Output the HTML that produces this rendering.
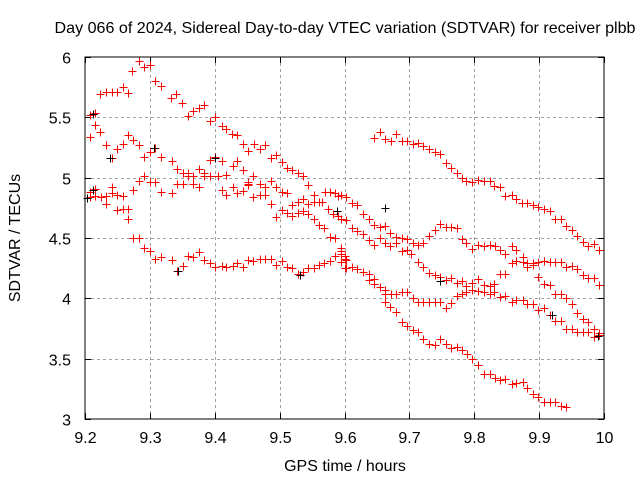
<!DOCTYPE html>
<html><head><meta charset="utf-8"><style>
body{margin:0;background:#fff}
svg{display:block;font-family:"Liberation Sans",sans-serif}
</style></head><body>
<svg id="chart" width="640" height="480">
<text x="345" y="33" font-size="16" text-anchor="middle" textLength="581" lengthAdjust="spacingAndGlyphs">Day 066 of 2024, Sidereal Day-to-day VTEC variation (SDTVAR) for receiver plbb</text>
<text x="345" y="471" font-size="16" text-anchor="middle">GPS time / hours</text>
<text transform="translate(20,238) rotate(-90)" font-size="16" text-anchor="middle">SDTVAR / TECUs</text>
<g id="grid"></g>
<g id="ticks"></g>
<g id="marks"></g>
<rect x="85" y="57" width="519" height="362" fill="none" stroke="#000" stroke-width="1"/>
</svg>
<script>
const xTicks=[9.2,9.3,9.4,9.5,9.6,9.7,9.8,9.9,10];
const xTickLabels=["9.2","9.3","9.4","9.5","9.6","9.7","9.8","9.9","10"];
const yTicks=[3,3.5,4,4.5,5,5.5,6];
const yTickLabels=["3","3.5","4","4.5","5","5.5","6"];
const trackTop=[[9.207,5.52],[9.216,5.54],[9.223,5.69],[9.232,5.71],[9.241,5.71],[9.25,5.71],[9.258,5.75],[9.267,5.70],[9.273,5.88],[9.284,5.97],[9.291,5.92],[9.30,5.93],[9.308,5.80],[9.317,5.76],[9.332,5.66],[9.341,5.69],[9.35,5.62],[9.359,5.51],[9.367,5.55],[9.375,5.58],[9.383,5.60],[9.393,5.47],[9.40,5.50],[9.411,5.43],[9.418,5.40],[9.426,5.36],[9.434,5.35],[9.444,5.28],[9.452,5.22],[9.46,5.28],[9.469,5.24],[9.477,5.27],[9.486,5.16],[9.494,5.19],[9.503,5.13],[9.511,5.08],[9.519,5.06],[9.529,5.04],[9.536,5.01],[9.544,4.94],[9.553,4.86],[9.561,4.80],[9.57,4.88],[9.578,4.88],[9.585,4.87],[9.59,4.85]];
const trackMid=[[9.207,5.34],[9.216,5.44],[9.223,5.38],[9.232,5.27],[9.241,5.16],[9.25,5.24],[9.258,5.28],[9.267,5.35],[9.274,5.31],[9.284,5.27],[9.291,5.17],[9.30,5.21],[9.308,5.25],[9.317,5.17],[9.334,5.14],[9.342,5.07],[9.351,5.04],[9.359,5.04],[9.359,5.01],[9.367,5.01],[9.376,5.07],[9.383,5.04],[9.383,5.01],[9.393,5.15],[9.393,5.01],[9.40,5.17],[9.405,5.01],[9.411,5.14],[9.418,5.02],[9.428,5.10],[9.435,5.14],[9.444,5.06],[9.452,4.96],[9.459,5.01],[9.452,4.94],[9.469,4.95],[9.477,4.92],[9.486,4.97],[9.494,4.92],[9.503,4.88],[9.511,4.87],[9.529,4.71],[9.536,4.72],[9.544,4.70],[9.553,4.66],[9.561,4.61],[9.569,4.58],[9.578,4.51],[9.586,4.50],[9.594,4.42],[9.600,4.35],[9.565,4.80],[9.575,4.74],[9.583,4.70],[9.59,4.68]];
const trackLow=[[9.207,4.88],[9.207,4.84],[9.216,4.91],[9.216,4.85],[9.224,4.84],[9.232,4.85],[9.232,4.78],[9.241,4.92],[9.241,4.87],[9.25,4.86],[9.25,4.73],[9.258,4.85],[9.258,4.74],[9.267,4.74],[9.267,4.66],[9.274,4.90],[9.284,4.97],[9.291,5.01],[9.30,4.96],[9.308,4.96],[9.317,4.88],[9.334,4.87],[9.342,4.95],[9.351,4.95],[9.367,4.95],[9.376,4.92],[9.411,4.90],[9.418,4.86],[9.428,4.92],[9.435,4.87],[9.444,4.89],[9.452,4.95],[9.459,4.84],[9.469,4.86],[9.477,4.86],[9.486,4.78],[9.494,4.67],[9.503,4.73],[9.511,4.71],[9.519,4.68],[9.519,4.77],[9.529,4.80],[9.536,4.82],[9.544,4.78],[9.553,4.80]];
const trackBottom=[[9.274,4.50],[9.284,4.50],[9.291,4.42],[9.30,4.39],[9.308,4.33],[9.317,4.34],[9.334,4.32],[9.342,4.23],[9.351,4.27],[9.359,4.35],[9.367,4.34],[9.376,4.38],[9.383,4.32],[9.393,4.29],[9.40,4.26],[9.411,4.27],[9.418,4.26],[9.428,4.27],[9.435,4.29],[9.444,4.26],[9.452,4.32],[9.459,4.31],[9.469,4.33],[9.477,4.33],[9.486,4.33],[9.494,4.28],[9.503,4.31],[9.511,4.26],[9.519,4.25],[9.529,4.20],[9.536,4.22],[9.544,4.25],[9.553,4.25],[9.561,4.28],[9.569,4.29],[9.578,4.31],[9.586,4.35],[9.594,4.39],[9.600,4.33],[9.600,4.25]];
const trackE1=[[9.646,5.33],[9.654,5.38],[9.662,5.32],[9.671,5.30],[9.680,5.36],[9.688,5.30],[9.696,5.30],[9.705,5.28],[9.714,5.29],[9.721,5.26],[9.731,5.24],[9.739,5.21],[9.747,5.20],[9.756,5.12],[9.764,5.08],[9.773,5.04],[9.781,5.00],[9.788,4.97],[9.797,4.96],[9.806,4.98],[9.815,4.97],[9.824,4.97],[9.830,4.93],[9.840,4.92],[9.847,4.85],[9.858,4.86],[9.865,4.82],[9.873,4.79],[9.882,4.79],[9.890,4.77],[9.899,4.76],[9.907,4.74],[9.916,4.72],[9.924,4.66],[9.933,4.66],[9.941,4.60],[9.950,4.57],[9.958,4.52],[9.967,4.47],[9.976,4.43],[9.985,4.45],[9.993,4.40]];
const trackE2=[[9.595,4.86],[9.603,4.84],[9.612,4.79],[9.620,4.77],[9.629,4.70],[9.637,4.66],[9.646,4.61],[9.654,4.59],[9.662,4.60],[9.670,4.54],[9.679,4.51],[9.688,4.50],[9.696,4.49],[9.705,4.46],[9.714,4.44],[9.721,4.46],[9.731,4.52],[9.739,4.57],[9.747,4.62],[9.756,4.59],[9.764,4.59],[9.773,4.58],[9.781,4.49],[9.788,4.46],[9.797,4.41],[9.806,4.44],[9.815,4.43],[9.824,4.44],[9.832,4.43],[9.840,4.40],[9.848,4.37],[9.858,4.43],[9.865,4.40],[9.875,4.34],[9.882,4.26],[9.890,4.29],[9.899,4.30],[9.907,4.31],[9.916,4.30],[9.924,4.30],[9.933,4.30],[9.941,4.26],[9.950,4.27],[9.958,4.24],[9.967,4.19],[9.976,4.17],[9.985,4.17],[9.993,4.11]];
const trackE3=[[9.595,4.66],[9.603,4.65],[9.612,4.58],[9.620,4.56],[9.629,4.53],[9.637,4.48],[9.646,4.44],[9.654,4.50],[9.662,4.46],[9.670,4.43],[9.680,4.46],[9.688,4.39],[9.696,4.40],[9.703,4.37],[9.714,4.30],[9.721,4.26],[9.731,4.21],[9.739,4.19],[9.747,4.18],[9.756,4.15],[9.764,4.17],[9.773,4.13],[9.781,4.14],[9.788,4.10],[9.797,4.13],[9.806,4.16],[9.815,4.11],[9.824,4.10],[9.830,4.12],[9.840,4.20],[9.848,4.20],[9.858,4.29],[9.865,4.31],[9.875,4.30],[9.882,4.29],[9.890,4.28],[9.899,4.18],[9.907,4.12],[9.916,4.11],[9.924,4.04],[9.933,4.04],[9.941,4.00],[9.950,3.95],[9.958,3.88],[9.967,3.83],[9.976,3.80],[9.985,3.75],[9.993,3.71]];
const trackE4=[[9.595,4.37],[9.603,4.32],[9.595,4.30],[9.603,4.25],[9.612,4.26],[9.620,4.24],[9.629,4.22],[9.637,4.20],[9.637,4.15],[9.646,4.16],[9.646,4.12],[9.654,4.09],[9.662,4.07],[9.662,4.04],[9.671,4.04],[9.680,4.04],[9.688,4.05],[9.696,4.05],[9.705,4.00],[9.714,3.97],[9.721,3.97],[9.731,3.97],[9.739,3.97],[9.747,3.97],[9.756,3.92],[9.764,3.96],[9.773,4.02],[9.781,4.04],[9.788,4.05],[9.797,4.07],[9.797,4.13],[9.806,4.06],[9.815,4.05],[9.824,4.04],[9.831,4.05],[9.840,4.01],[9.848,4.02],[9.858,3.97],[9.865,3.99],[9.875,3.99],[9.882,3.95],[9.890,3.95],[9.899,3.90],[9.907,3.92],[9.916,3.86],[9.924,3.81],[9.933,3.81],[9.941,3.75],[9.950,3.75],[9.958,3.72],[9.967,3.72],[9.976,3.72],[9.985,3.68],[9.993,3.70]];
const trackE5=[[9.662,3.97],[9.670,3.93],[9.679,3.89],[9.688,3.80],[9.696,3.77],[9.705,3.74],[9.714,3.72],[9.721,3.66],[9.731,3.62],[9.739,3.61],[9.747,3.66],[9.756,3.62],[9.764,3.59],[9.773,3.60],[9.781,3.57],[9.789,3.54],[9.797,3.50],[9.806,3.45],[9.815,3.37],[9.824,3.37],[9.832,3.34],[9.840,3.32],[9.848,3.33],[9.858,3.29],[9.865,3.30],[9.875,3.31],[9.882,3.26],[9.890,3.21],[9.899,3.18],[9.907,3.14],[9.916,3.14],[9.924,3.14],[9.933,3.11],[9.941,3.10]];
const blackPoints=[[9.203,4.83],[9.212,4.90],[9.212,5.53],[9.238,5.16],[9.306,5.25],[9.343,4.23],[9.40,5.16],[9.531,4.19],[9.589,4.72],[9.662,4.75],[9.747,4.14],[9.92,3.86],[9.99,3.69]];
const X0=85,X1=604,Y0=419,Y1=57;
const xs=v=>X0+(v-9.2)/0.8*(X1-X0);
const ys=v=>Y0-(v-3)/3*(Y0-Y1);
const NS="http://www.w3.org/2000/svg";
const grid=document.getElementById('grid'),ticks=document.getElementById('ticks'),marks=document.getElementById('marks');
function mk(tag,attrs,parent){const e=document.createElementNS(NS,tag);for(const k in attrs)e.setAttribute(k,attrs[k]);parent.appendChild(e);return e;}
xTicks.forEach((t,i)=>{const x=Math.round(xs(t))+0.5;
 if(i>0&&i<xTicks.length-1){const g=mk('line',{x1:x,x2:x,y1:Y1,y2:Y0,stroke:'#a0a0a0','stroke-dasharray':'3,3'},grid);}
 mk('line',{x1:x,x2:x,y1:Y0,y2:Y0-6,stroke:'#000'},ticks);mk('line',{x1:x,x2:x,y1:Y1,y2:Y1+6,stroke:'#000'},ticks);
 const l=mk('text',{x:x,y:443,'font-size':16,'text-anchor':'middle'},ticks);l.textContent=xTickLabels[i];
 });
yTicks.forEach((t,i)=>{const y=Math.round(ys(t))+0.5;
 if(i>0&&i<yTicks.length-1){const g=mk('line',{x1:X0,x2:X1,y1:y,y2:y,stroke:'#a0a0a0','stroke-dasharray':'3,3'},grid);}
 mk('line',{x1:X0,x2:X0+6,y1:y,y2:y,stroke:'#000'},ticks);mk('line',{x1:X1,x2:X1-6,y1:y,y2:y,stroke:'#000'},ticks);
 const l=mk('text',{x:71,y:y+6,'font-size':16,'text-anchor':'end'},ticks);l.textContent=yTickLabels[i];
 });
function plus(p,color){const x=Math.round(xs(p[0]))+0.5,y=Math.round(ys(p[1]))+0.5;
 const e=mk('path',{d:`M${x-4},${y}H${x+4}M${x},${y-4}V${y+4}`,stroke:color,'stroke-width':1,fill:'none'},marks);
 
 }
[trackTop,trackMid,trackLow,trackBottom,trackE1,trackE2,trackE3,trackE4,trackE5].forEach(tr=>tr.forEach(p=>plus(p,'#ff0000')));
blackPoints.forEach(p=>plus(p,'#000000'));
</script>
</body></html>
